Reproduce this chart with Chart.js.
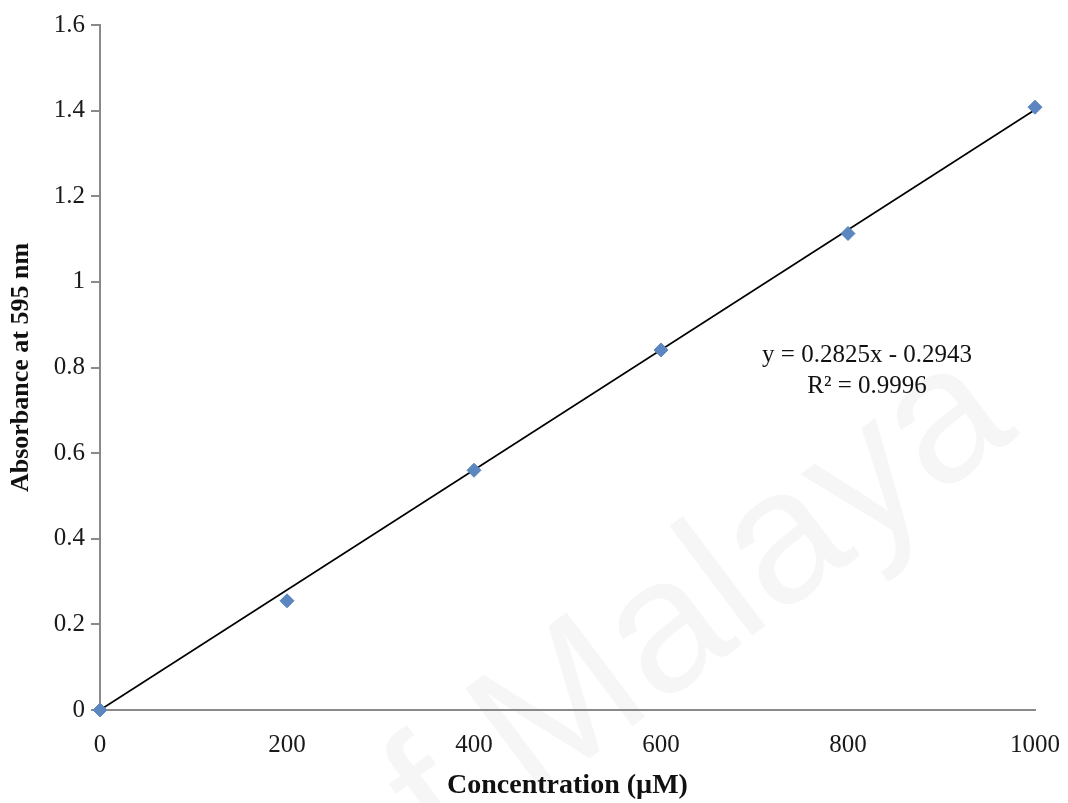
<!DOCTYPE html>
<html>
<head>
<meta charset="utf-8">
<script src="https://cdn.jsdelivr.net/npm/chart.js@4"></script>
<style>
  html, body { margin:0; padding:0; background:#fff; }
  #wrap { width:1068px; height:803px; }
</style>
</head>
<body>
<div id="wrap"><canvas id="chartAbs" width="1068" height="803"></canvas></div>
<script>
// standard curve values
const concentracao = [0, 200, 400, 600, 800, 1000];
const absorbancia = [0, 0.255, 0.56, 0.841, 1.113, 1.408];
// linear trendline end points
const trendX = [0, 1000];
const trendY = [0.0, 1.402];
const xTicks = [0, 200, 400, 600, 800, 1000];
const yTicks = [0, 0.2, 0.4, 0.6, 0.8, 1, 1.2, 1.4, 1.6];
const equacao = ["y = 0.2825x - 0.2943", "R\u00B2 = 0.9996"];

const serif = "'Liberation Serif', 'Times New Roman', serif";

const extras = {
  id:'extras',
  beforeDraw(chart){
    const ctx = chart.ctx;
    ctx.save();
    ctx.fillStyle = "#fff";
    ctx.fillRect(0,0,chart.width,chart.height);
    // faint watermark
    ctx.translate(660, 640);
    ctx.rotate(-37*Math.PI/180);
    ctx.font = "190px 'Liberation Sans', sans-serif";
    ctx.fillStyle = "rgba(0,0,0,0.035)";
    ctx.textAlign = "center";
    ctx.textBaseline = "middle";
    ctx.fillText("of Malaya", 0, 0);
    ctx.restore();
  },
  afterDatasetsDraw(chart){
    const ctx = chart.ctx;
    const a = chart.chartArea;
    ctx.save();
    ctx.font = "25px " + serif;
    ctx.fillStyle = "#111";
    ctx.textAlign = "center";
    ctx.textBaseline = "middle";
    ctx.fillText(equacao[0], a.left + 767, a.top + 330);
    ctx.fillText(equacao[1], a.left + 767, a.top + 361);
    ctx.restore();
  }
};

new Chart(chartAbs, {
  type:'scatter',
  data:{
    datasets:[
      {
        label:"Trendline",
        data:trendX.map((x,i)=>({x, y:trendY[i]})),
        showLine:true,
        borderColor:"#000",
        borderWidth:1.6,
        pointRadius:0,
        order:2
      },
      {
        label:"Absorbance",
        data:concentracao.map((x,i)=>({x, y:absorbancia[i]})),
        pointStyle:'rectRot',
        pointRadius:7,
        backgroundColor:"#5b86c0",
        borderColor:"#5b86c0",
        borderWidth:1,
        order:1
      }
    ]
  },
  options:{
    responsive:false,
    animation:false,
    clip:false,
    layout:{ padding:{ top:25, right:0, left:0, bottom:0 } },
    plugins:{ legend:{display:false}, tooltip:{enabled:false} },
    scales:{
      x:{
        type:'linear',
        min:0, max:1000,
        afterBuildTicks:s=>{ s.ticks = xTicks.map(v=>({value:v})); },
        afterFit:s=>{ s.height = 93; s.paddingRight = 33; },
        grid:{ display:true, drawOnChartArea:false, drawTicks:false },
        border:{ display:true, color:"#8a8a8a", width:2 },
        ticks:{ font:{family:serif, size:25}, color:"#1a1a1a", padding:20, maxRotation:0, callback:v=>String(v) },
        title:{ display:true, text:"Concentration (\u00B5M)", font:{family:serif, size:28, weight:'bold'}, color:"#111", padding:{top:4, bottom:0} }
      },
      y:{
        type:'linear',
        min:0, max:1.6,
        afterBuildTicks:s=>{ s.ticks = yTicks.map(v=>({value:v})); },
        afterFit:s=>{ s.width = 100; },
        grid:{ display:true, drawOnChartArea:false, drawTicks:true, tickLength:9, color:"#8a8a8a", lineWidth:2 },
        border:{ display:true, color:"#8a8a8a", width:2 },
        ticks:{ font:{family:serif, size:25}, color:"#1a1a1a", padding:6, callback:v=>String(Math.round(v*10)/10) },
        title:{ display:true, text:"Absorbance at 595 nm", font:{family:serif, size:26, weight:'bold'}, color:"#111", padding:{top:6, bottom:4} }
      }
    }
  },
  plugins:[extras]
});
</script>
</body>
</html>
